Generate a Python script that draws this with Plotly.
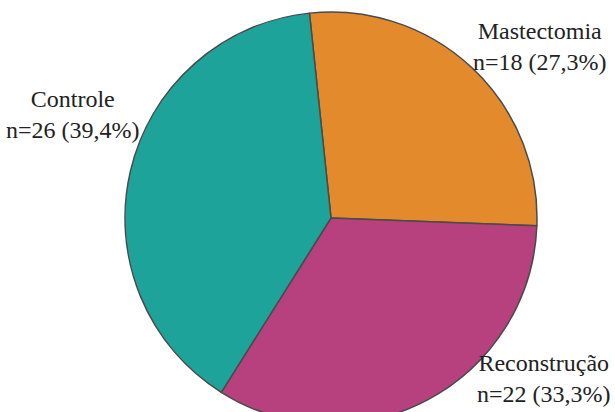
import plotly.graph_objects as go

labels = ["Mastectomia", "Reconstrução", "Controle"]
values = [18, 22, 26]
colors = ["#E38A2D", "#B7407F", "#1EA39B"]

total = sum(values)
texts = []
for lab, v in zip(labels, values):
    pct = f"{100 * v / total:.1f}".replace(".", ",")
    texts.append(f"{lab}<br>n={v} ({pct}%)")

W, H = 615, 424  # figure is slightly taller than the window; the pie is cut at the bottom like the reference

fig = go.Figure(
    go.Pie(
        labels=labels,
        values=values,
        sort=False,
        direction="clockwise",
        rotation=-6,
        marker=dict(colors=colors, line=dict(color="#4a4a4a", width=1.5)),
        textinfo="none",
        hoverinfo="skip",
        showlegend=False,
        domain=dict(x=[125 / W, 537 / W], y=[0, 1 - 12 / H]),
    )
)

label_pos = [(540, 46), (544, 378), (73, 114)]
annotations = []
for t, (px, py) in zip(texts, label_pos):
    annotations.append(
        dict(
            text=t,
            x=px / W,
            y=1 - py / H,
            xref="paper",
            yref="paper",
            xanchor="center",
            yanchor="middle",
            showarrow=False,
            font=dict(family="Liberation Serif, DejaVu Serif, serif", size=24, color="#222222"),
            align="center",
        )
    )

fig.update_layout(
    width=W,
    height=H,
    margin=dict(l=0, r=0, t=0, b=0),
    paper_bgcolor="white",
    plot_bgcolor="white",
    font=dict(family="Liberation Serif, DejaVu Serif, serif"),
    annotations=annotations,
)

fig.write_html(
    "out.html",
    post_script="document.documentElement.style.overflow='hidden';document.body.style.overflow='hidden';document.body.style.margin='0';",
)
